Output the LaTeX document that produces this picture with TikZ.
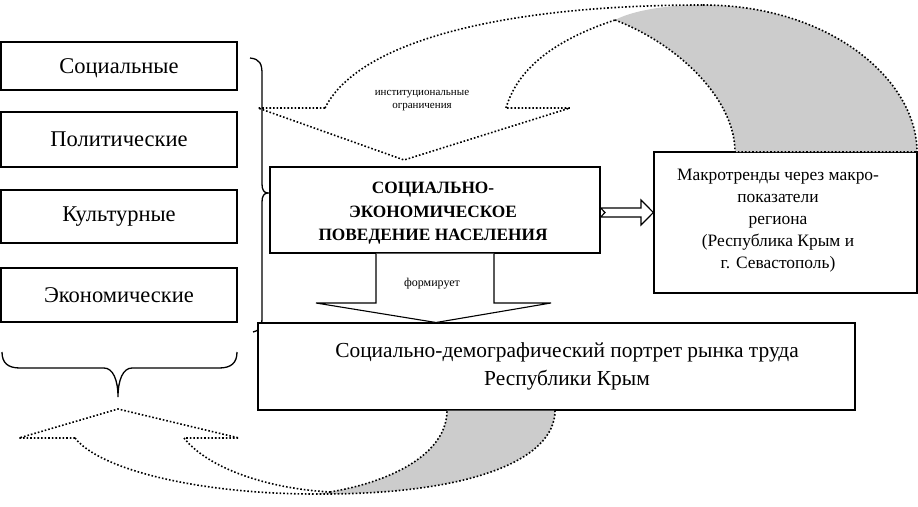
\documentclass[tikz,border=0pt]{standalone}
\usepackage{fontspec}
\setmainfont{Liberation Serif}
\begin{document}
\begin{tikzpicture}[x=1pt,y=-1pt,
  box/.style={draw,line width=1.1pt,fill=white,inner sep=0pt},
  dots/.style={line width=1.6pt,dash pattern=on 1.6pt off 2pt},
  grayband/.style={fill=black!20},
  lbl/.style={font=\fontsize{22.5}{26}\selectfont},
  blockarrow/.style={draw,line width=1.1pt,fill=white,line join=miter}]
\useasboundingbox (0,0) rectangle (918,506);

% left factor boxes
\node[box,minimum width=236pt,minimum height=48pt] (soc) at (119,66) {};
\node[lbl] (soctxt) at (119,68) {Социальные};
\node[box,minimum width=236pt,minimum height=55pt,lbl] (pol) at (119,139.5) {Политические};
\node[box,minimum width=236pt,minimum height=53pt,lbl] (cul) at (119,216.5) {Культурные};
\node[box,minimum width=236pt,minimum height=54pt,lbl] (eco) at (119,295) {Экономические};

% right brace
\draw[line width=1.3pt] (250,58) .. controls (260,59) and (262,64) .. (262,74)
  -- (262,184) .. controls (262,190) and (264,193) .. (268,193)
  .. controls (264,193) and (262,196) .. (262,202)
  -- (262,318) .. controls (262,327) and (259,331) .. (253,332);

% bottom brace
\draw[line width=1.3pt] (2,352) .. controls (2,363) and (8,368) .. (20,368)
  -- (104,368) .. controls (113,368) and (118,380) .. (118,397)
  .. controls (118,380) and (123,368) .. (132,368)
  -- (219,368) .. controls (231,368) and (237,363) .. (237,352);

% Makro box
\node[box,minimum width=263pt,minimum height=141pt] (mak) at (785.5,222.5) {};
\node[font=\fontsize{17.4}{22}\selectfont,align=center] (maktxt) at (778,221)
  {Макротренды через макро-\\показатели\\региона\\(Республика Крым и\\г. Севастополь)};

% top curved arrow: gray back band
\path[grayband] (615,20) .. controls (680,45) and (735,100) .. (735,152)
  -- (917,152) .. controls (917,80) and (830,5) .. (703,5)
  .. controls (660,5) and (630,12) .. (615,20) -- cycle;
\draw[dots] (615,20) .. controls (680,45) and (735,100) .. (735,152) -- (917,152);
\draw[dots] (703,5) .. controls (830,5) and (917,80) .. (917,152);
% top curved arrow: front band and head
\draw[dots] (325,108) .. controls (358,42) and (500,5) .. (703,5);
\draw[dots] (506,108) .. controls (520,60) and (570,35) .. (615,20);
\draw[dots] (325,108) -- (258,108) -- (404,160) -- (570,108) -- (506,108);
\node[font=\fontsize{11}{13}\selectfont,align=center] (inst) at (422,101)
  {институциональные\\ограничения};

% main box
\node[box,minimum width=330pt,minimum height=86pt] (beh) at (435,210) {};
\node[font=\bfseries\fontsize{17.3}{23.5}\selectfont,align=center] (behtxt) at (433,213.5)
  {СОЦИАЛЬНО-\\ЭКОНОМИЧЕСКОЕ\\ПОВЕДЕНИЕ НАСЕЛЕНИЯ};

% hollow arrow main -> Makro
\draw[blockarrow] (beh.east |- 0,208) -- (641,208) -- (641,200) -- (mak.west |- 0,212.5)
  -- (641,225) -- (641,217) -- (beh.east |- 0,217) -- (605,212.5) -- cycle;

% bottom box
\node[box,minimum width=597pt,minimum height=87pt] (port) at (556.5,366.5) {};
\node[font=\fontsize{21.4}{28}\selectfont,align=center] (porttxt) at (567,366)
  {Социально-демографический портрет рынка труда\\Республики Крым};

% forms arrow
\draw[blockarrow] (376,253.5) -- (376,303) -- (316,303) -- (436,322.5) -- (551,303)
  -- (494,303) -- (494,253.5);
\node[font=\fontsize{12}{14}\selectfont] (form) at (432,284) {формирует};

% bottom curved arrow: gray back band
\path[grayband] (330,492) .. controls (400,480) and (447,450) .. (447,410.5)
  -- (555,410.5) .. controls (555,460) and (470,495) .. (315,494) -- cycle;
\draw[dots] (330,492) .. controls (400,480) and (447,450) .. (447,410.5);
\draw[dots] (555,410.5) .. controls (555,460) and (470,495) .. (315,494);
% bottom curved arrow: front band and head
\draw[dots] (75,438) .. controls (100,470) and (200,494) .. (315,494);
\draw[dots] (184,438) .. controls (205,465) and (260,488) .. (330,492);
\draw[dots] (75,438) -- (19,438) -- (118,409) -- (239,438) -- (184,438);
\end{tikzpicture}
\end{document}
